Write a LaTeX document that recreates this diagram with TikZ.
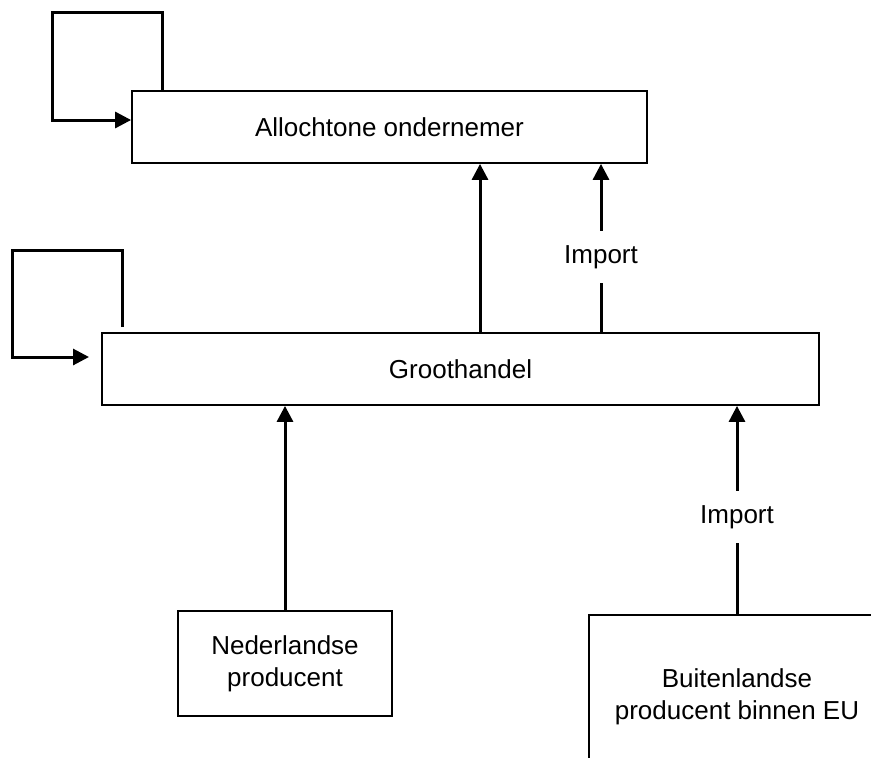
\documentclass[tikz,border=0pt]{standalone}
\usepackage{fontspec}
\setmainfont{Liberation Sans}
\usetikzlibrary{arrows.meta}
\begin{document}
\begin{tikzpicture}[x=1pt,y=-1pt,
  box/.style={draw,line width=1.8pt,inner sep=0pt,align=center,
    font=\fontsize{26}{32}\selectfont},
  lbl/.style={inner sep=0pt,minimum height=52pt,font=\fontsize{26}{32}\selectfont},
  arr/.style={line width=3pt,-{Triangle[length=16pt,width=16pt]}},
  ln/.style={line width=3pt}]
\useasboundingbox (0,0) rectangle (871,758);
\clip (0,0) rectangle (871,758);
\node[box,minimum width=515pt,minimum height=72pt] (allo) at (389.5,127) {Allochtone ondernemer};
\node[box,minimum width=717pt,minimum height=72pt] (groot) at (460.5,369) {Groothandel};
\node[box,minimum width=214pt,minimum height=105pt] (ned) at (285,663.5) {Nederlandse\\producent};
\node[box,minimum width=296pt,minimum height=164pt] (buit) at (737,697) {Buitenlandse\\producent binnen EU};
\node[lbl] (imp1) at (601,257) {Import};
\node[lbl] (imp2) at (737,517) {Import};
% loops
\coordinate (l1a) at (162,91);
\coordinate (l1b) at (162,12);
\coordinate (l1c) at (52,12);
\coordinate (l1d) at (52,120);
\draw[arr] (l1a) -- (l1b) -- (l1c) -- (l1d) -- (l1d -| allo.west);
\coordinate (l2a) at (122,327);
\coordinate (l2b) at (122,250);
\coordinate (l2c) at (12,250);
\coordinate (l2d) at (12,357);
\coordinate (l2e) at (89,357);
\draw[arr] (l2a) -- (l2b) -- (l2c) -- (l2d) -- (l2e);
% vertical arrows
\coordinate (gx) at (480,0);
\draw[arr] (groot.north -| gx) -- (allo.south -| gx);
\draw[ln] (groot.north -| imp1) -- (imp1.south);
\draw[arr] (imp1.north) -- (allo.south -| imp1);
\draw[arr] (ned.north) -- (groot.south -| ned.north);
\draw[ln] (buit.north) -- (imp2.south);
\draw[arr] (imp2.north) -- (groot.south -| imp2);
\end{tikzpicture}
\end{document}
